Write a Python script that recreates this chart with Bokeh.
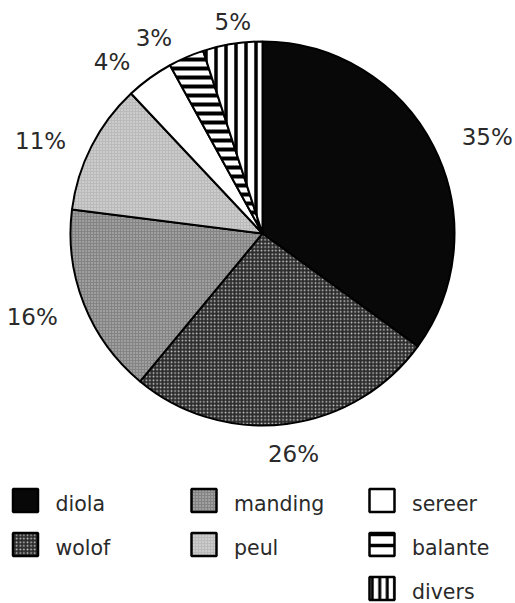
import math
from bokeh.plotting import figure
from bokeh.models import Range1d
from bokeh.core.properties import value
from bokeh.embed import file_html
from bokeh.resources import INLINE

# ---- data ----
groups = ["diola", "wolof", "manding", "peul", "sereer", "balante", "divers"]
shares = [35, 26, 16, 11, 4, 3, 5]
legend_columns = [["diola", "wolof"], ["manding", "peul"], ["sereer", "balante", "divers"]]

# ---- style ----
fills = {"diola": "#080808", "wolof": "#2c2c2c", "manding": "#848484", "peul": "#bababa",
         "sereer": "#ffffff", "balante": "#ffffff", "divers": "#ffffff"}
hatches = {"wolof": ("dot", "#cfcfcf", 3.6, 1.0),
           "manding": ("dot", "#c8c8c8", 3.0, 1.0),
           "peul": ("dot", "#e6e6e6", 3.0, 1.0),
           "balante": ("horizontal_line", "#000000", 9, 4),
           "divers": ("vertical_line", "#000000", 10, 3.5)}
legend_hatches = {"balante": ("horizontal_line", "#000000", 11, 3.5),
                  "divers": ("vertical_line", "#000000", 7.5, 3)}
# label placement tweaks (degrees clockwise, extra radial px)
label_turn = {"diola": 3.8, "wolof": -0.8, "manding": 1.6, "peul": -4.3,
              "sereer": -5.3, "balante": -5.6, "divers": 1.0}
label_push = {"diola": 2, "manding": 2, "peul": -2, "sereer": -3, "balante": -4, "divers": -8}
FONT = "DejaVu Sans"
TXT = "#2a2a2a"

W, H = 515, 603
p = figure(width=W, height=H, output_backend="svg", toolbar_location=None,
           x_range=Range1d(0, W), y_range=Range1d(-H, 0), min_border=0)
p.axis.visible = False
p.grid.visible = False
p.outline_line_color = None
p.background_fill_color = "white"
p.border_fill_color = "white"

cx, cy, r = 262, -233, 192


def hatch_kw(name, table):
    if name in table:
        pat, col, sc, wt = table[name]
        return dict(hatch_pattern=pat, hatch_color=col, hatch_scale=sc, hatch_weight=wt)
    return {}


# ---- pie ----
total = sum(shares)
cum = 0
for g, v in zip(groups, shares):
    f0, f1 = cum / total, (cum + v) / total
    cum += v
    a_start = math.pi / 2 - 2 * math.pi * f1
    a_end = math.pi / 2 - 2 * math.pi * f0
    p.wedge(x=[cx], y=[cy], radius=r, radius_units="screen", start_angle=a_start,
            end_angle=a_end, direction="anticlock", fill_color=fills[g],
            line_color="black", line_width=2, **hatch_kw(g, hatches))
    # label
    label = f"{v}%"
    fs = 23
    w = (0.636 * (len(label) - 1) + 0.95) * fs
    theta = 2 * math.pi * (f0 + f1) / 2 + math.radians(label_turn.get(g, 0))
    R = r + 27 + 0.5 * w * abs(math.sin(theta)) + label_push.get(g, 0)
    lx = cx + R * math.sin(theta)
    ly = cy + R * math.cos(theta)
    p.text(x=[lx], y=[ly], text=[label], text_font=value(FONT), text_font_size=f"{fs}px",
           text_align="center", text_baseline="middle", text_color=TXT)

# ---- legend ----
col_x = [25, 203.5, 381.5]
row_y = [500, 544, 588]
text_dx = 30
for ci, col in enumerate(legend_columns):
    for ri, g in enumerate(col):
        x0, y0 = col_x[ci], row_y[ri]
        kw = hatch_kw(g, legend_hatches) or hatch_kw(g, hatches)
        p.rect(x=[x0], y=[-y0], width=25, height=23, width_units="screen",
               height_units="screen", fill_color=fills[g], line_color="black",
               line_width=2.5, **kw)
        p.text(x=[x0 + text_dx], y=[-(y0 + 3)], text=[g], text_font=value(FONT),
               text_font_size="20.5px", text_align="left", text_baseline="middle",
               text_color=TXT)

open("out.html", "w").write(file_html(p, INLINE))
